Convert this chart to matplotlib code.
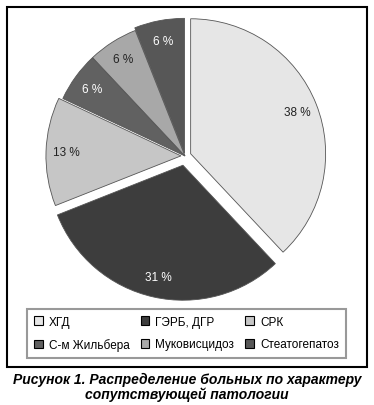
import matplotlib.pyplot as plt
from matplotlib.patches import Rectangle

labels = ['ХГД', 'ГЭРБ, ДГР', 'СРК', 'С-м Жильбера', 'Муковисцидоз', 'Стеатогепатоз']
values = [38, 31, 13, 6, 6, 6]
colors = ['#e6e6e6', '#3d3d3d', '#c6c6c6', '#616161', '#a8a8a8', '#575757']
text_colors = ['#222222', 'white', '#222222', 'white', '#222222', 'white']
explode = [0.045, 0.07, 0.03, 0.0, 0.0, 0.02]

W, H = 374, 406
cx, cy, R = 185, 157, 135

plt.rcParams['font.family'] = ['Liberation Sans', 'DejaVu Sans']

fig = plt.figure(figsize=(W / 100, H / 100), dpi=100)
ax = fig.add_axes([0, 0, 1, 1])

wedges, texts, autotexts = ax.pie(values, colors=colors, explode=explode,
                                  startangle=90, counterclock=False,
                                  autopct='%d %%', pctdistance=0.85,
                                  wedgeprops=dict(edgecolor='#555555', linewidth=0.6),
                                  textprops=dict(fontsize=8.5))
for t, c in zip(autotexts, text_colors):
    t.set_color(c)

# map data units to pixels: 1 unit = R pixels, pie centre at (cx, cy)
ax.set_xlim(-cx / R, (W - cx) / R)
ax.set_ylim((cy - H) / R, cy / R)
ax.set_aspect('auto')
ax.axis('off')

# outer frame
fig.patches.append(Rectangle((7 / W, 1 - 368 / H), 360 / W, 360 / H,
                             transform=fig.transFigure, fill=False,
                             edgecolor='black', linewidth=1.5))

# legend, row-wise order
order = [0, 3, 1, 4, 2, 5]
leg = fig.legend([wedges[i] for i in order], [labels[i] for i in order],
                 ncol=3, loc='center', mode='expand',
                 bbox_to_anchor=(21 / W, 1 - 362 / H, 331 / W, 55 / H),
                 fontsize=8.5, handlelength=0.75, handleheight=0.75,
                 handletextpad=0.5, labelspacing=0.9, borderpad=0.6,
                 fancybox=False, edgecolor='#999999', framealpha=1)
leg.get_frame().set_linewidth(1.5)
for h in leg.legend_handles:
    h.set_edgecolor('black')
    h.set_linewidth(0.8)

fig.text(0.5, 1 - 380 / H, 'Рисунок 1. Распределение больных по характеру',
         ha='center', va='center', fontsize=10, fontweight='bold', style='italic')
fig.text(0.5, 1 - 395 / H, 'сопутствующей патологии',
         ha='center', va='center', fontsize=10, fontweight='bold', style='italic')

fig.savefig('out.png', dpi=100)
